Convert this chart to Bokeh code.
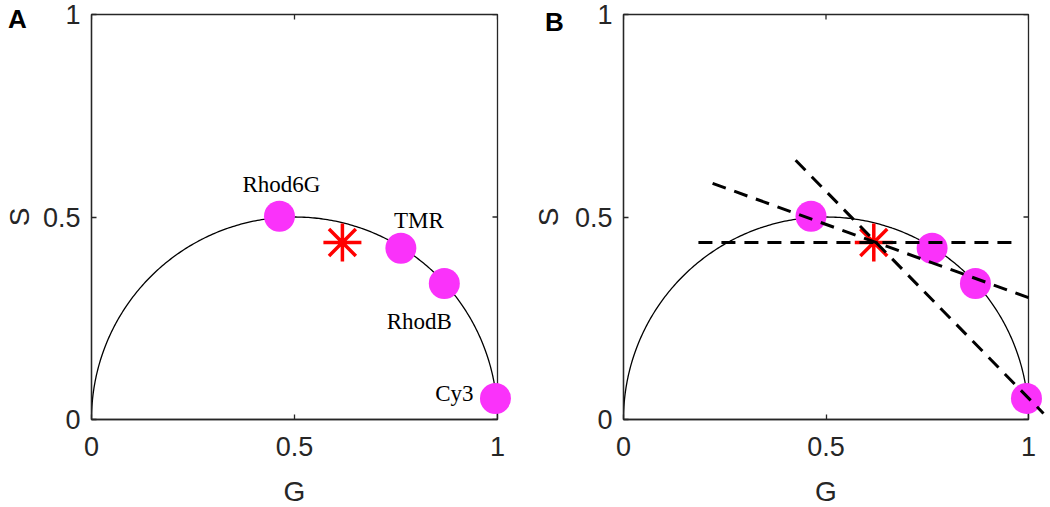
import numpy as np
from bokeh.plotting import figure
from bokeh.models import (ColumnDataSource, FixedTicker, NumeralTickFormatter,
                          Range1d)
from bokeh.layouts import row
from bokeh.embed import file_html
from bokeh.resources import INLINE
from bokeh.core.properties import value

# ---------------- data ----------------
dye_names = ["Rhod6G", "TMR", "RhodB", "Cy3"]
dye_g = [0.463, 0.762, 0.869, 0.995]
dye_s = [0.502, 0.423, 0.336, 0.052]

mix_g = [0.618]
mix_s = [0.437]

# dashed construction lines of panel B (start and end points)
line_g0 = [0.185, 0.220, 0.425]
line_s0 = [0.437, 0.583, 0.640]
line_g1 = [0.963, 1.000, 1.037]
line_s1 = [0.437, 0.301, 0.015]

ticks = [0, 0.5, 1]

# label styling (pixel offsets from each dye point)
label_dx = [2, 18, -25, -22]
label_dy = [-32, -28, 38, -5]
label_align = ["center", "center", "center", "right"]

MAG = "#FA32FA"
AX = "#262626"
SANS = "Liberation Sans"
SERIF = "Liberation Serif"

# universal semicircle
theta = np.linspace(0, np.pi, 300)
circ_g = 0.5 + 0.5 * np.cos(theta)
circ_s = 0.5 * np.sin(theta)


def style_axis(ax, standoff, label=None, label_standoff=0):
    ax.ticker = FixedTicker(ticks=ticks)
    ax.formatter = NumeralTickFormatter(format="0.[0]")
    ax.major_tick_in = 5
    ax.major_tick_out = 0
    ax.minor_tick_line_color = None
    ax.axis_line_color = AX
    ax.axis_line_width = 1.3
    ax.major_tick_line_color = AX
    ax.major_tick_line_width = 1.3
    ax.major_label_text_font = SANS
    ax.major_label_text_color = AX
    ax.major_label_text_font_size = "27px"
    ax.major_label_standoff = standoff
    if label is not None:
        ax.axis_label = label
        ax.axis_label_text_font = SANS
        ax.axis_label_text_font_size = "28px"
        ax.axis_label_text_font_style = "normal"
        ax.axis_label_text_color = AX
        ax.axis_label_standoff = label_standoff


def make_panel(letter, with_lines, with_names, border_left, border_right,
               frame_w, letter_dx, letter_dy, s_standoff):
    p = figure(width=border_left + frame_w + border_right, height=507,
               x_range=Range1d(0, 1), y_range=Range1d(0, 1),
               output_backend="svg", toolbar_location=None,
               min_border_left=border_left, min_border_right=border_right,
               min_border_top=14, min_border_bottom=88)
    p.xgrid.visible = False
    p.ygrid.visible = False
    p.outline_line_color = AX
    p.outline_line_width = 1.3
    p.outline_line_alpha = 1.0
    p.background_fill_color = "white"
    p.border_fill_color = "white"

    style_axis(p.xaxis[0], 17)
    style_axis(p.yaxis[0], 11, "S", s_standoff)

    # inward tick marks on the top and right edges (half is clipped away)
    p.scatter(ticks, [1] * len(ticks), marker="dash", angle=np.pi / 2,
              size=10, line_color=AX, line_width=1.3)
    p.scatter([1] * len(ticks), ticks, marker="dash", size=10,
              line_color=AX, line_width=1.3)

    p.line(circ_g, circ_s, line_color="black", line_width=1.3)

    src = ColumnDataSource(dict(g=dye_g, s=dye_s, name=dye_names,
                                dx=label_dx, dy=label_dy, al=label_align))
    p.scatter("g", "s", source=src, size=31, fill_color=MAG,
              line_color=None, level="overlay")
    p.scatter(mix_g, mix_s, marker="asterisk", size=38, line_color="red",
              line_width=3.5, level="overlay")
    if with_lines:
        p.segment(x0=line_g0, y0=line_s0, x1=line_g1, y1=line_s1,
                  line_color="black", line_width=3, line_dash="14 9",
                  level="overlay")
    if with_names:
        p.text("g", "s", text="name", source=src, x_offset="dx", y_offset="dy",
               text_align="al", text_baseline="alphabetic",
               text_font=value(SERIF), text_font_size="23px",
               text_color="black")

    # x-axis title and panel letter as unclipped text glyphs
    p.text(x=[0.5], y=[0], text=["G"], y_offset=72, text_align="center",
           text_baseline="alphabetic", text_font=value(SANS),
           text_font_size="28px", text_color=AX, level="overlay")
    p.text(x=[0], y=[1], text=[letter], x_offset=letter_dx, y_offset=letter_dy,
           text_align="center", text_baseline="alphabetic",
           text_font=value(SANS), text_font_style="bold",
           text_font_size="26px", text_color="black", level="overlay")
    return p


pa = make_panel("A", False, True, 91, 20, 406, -74, 4, 5)
pb = make_panel("B", True, False, 106, 22, 405, -69, 7, 8)

layout = row(pa, pb)
open("out.html", "w").write(file_html(layout, INLINE))
